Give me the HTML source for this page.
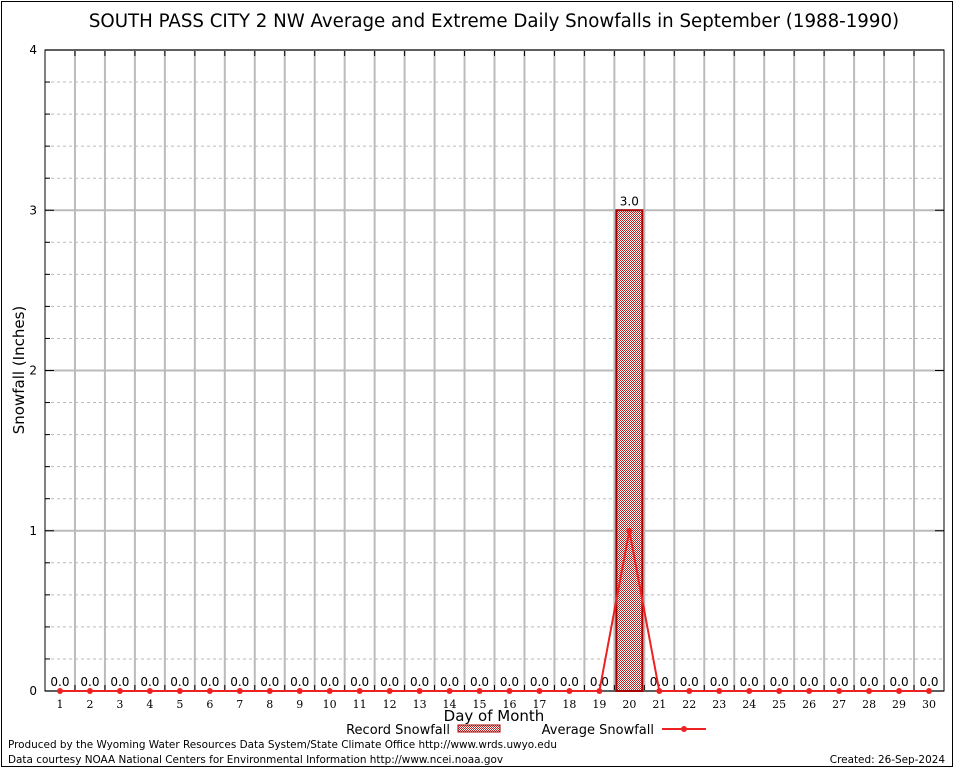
<!DOCTYPE html>
<html><head><meta charset="utf-8"><style>
body{margin:0;background:#fff;}
svg{display:block;font-family:"DejaVu Sans","Liberation Sans",sans-serif;}
</style></head><body>
<svg id="chart" width="954" height="768" xmlns="http://www.w3.org/2000/svg">
<defs>
<pattern id="dots" width="2" height="2" patternUnits="userSpaceOnUse">
<rect width="2" height="2" fill="#fff"/><rect width="1" height="1" fill="#b22"/><rect x="1" y="1" width="1" height="1" fill="#b22"/>
</pattern>
</defs>
<rect x="1.5" y="1.5" width="951" height="765" fill="#fff" stroke="#000" stroke-width="1"/>
<text x="494" y="27" font-size="18.2" text-anchor="middle">SOUTH PASS CITY 2 NW Average and Extreme Daily Snowfalls in September (1988-1990)</text>
<g id="grid"></g>
<g id="marks"></g>
<text x="24" y="370" font-size="15" text-anchor="middle" transform="rotate(-90 24 370)">Snowfall (Inches)</text>
<text x="494" y="721" font-size="15" text-anchor="middle">Day of Month</text>
<g>
<text x="450" y="734" font-size="13" text-anchor="end">Record Snowfall</text>
<rect x="458" y="725" width="42" height="7" fill="url(#dots)" stroke="#a00"/>
<text x="654" y="734" font-size="13" text-anchor="end">Average Snowfall</text>
<line x1="662" y1="729" x2="706" y2="729" stroke="#e22" stroke-width="2"/>
<circle cx="684" cy="729" r="3" fill="#e22"/>
</g>
<text x="8" y="748" font-size="10.45">Produced by the Wyoming Water Resources Data System/State Climate Office http://www.wrds.uwyo.edu</text>
<text x="8" y="763" font-size="10.45">Data courtesy NOAA National Centers for Environmental Information http://www.ncei.noaa.gov</text>
<text x="945" y="763" font-size="10.45" text-anchor="end">Created: 26-Sep-2024</text>
</svg>
<script>
const days=[1,2,3,4,5,6,7,8,9,10,11,12,13,14,15,16,17,18,19,20,21,22,23,24,25,26,27,28,29,30];
const recordValues=[0,0,0,0,0,0,0,0,0,0,0,0,0,0,0,0,0,0,0,3.0,0,0,0,0,0,0,0,0,0,0];
const averageValues=[0,0,0,0,0,0,0,0,0,0,0,0,0,0,0,0,0,0,0,1.0,0,0,0,0,0,0,0,0,0,0];
const yTicks=[0,1,2,3,4];
const L=45,R=944,T=50,B=691,yMax=4;
const bw=(R-L)/days.length;
const xs=d=>L+(d-0.5)*bw;
const ys=v=>B-(v/yMax)*(B-T);
const NS='http://www.w3.org/2000/svg';
function mk(tag,attrs,parent,txt){const e=document.createElementNS(NS,tag);for(const k in attrs)e.setAttribute(k,attrs[k]);if(txt!==undefined)e.textContent=txt;parent.appendChild(e);return e;}
const g=document.getElementById('grid'),m=document.getElementById('marks');
for(let v=0;v<=yMax+1e-9;v+=0.2){const y=ys(v);
 const ln=mk('line',{x1:L,x2:R,y1:y,y2:y,stroke:'#bbb','stroke-dasharray':'3,3'},g);
 
 
 mk('line',{x1:L,x2:L+5,y1:y,y2:y,stroke:'#000'},g);}
for(let i=1;i<days.length;i++){const x=L+i*bw;
 const ln=mk('line',{x1:x,x2:x,y1:T,y2:B,stroke:'#bbb','stroke-width':2},g);
 
 
 mk('line',{x1:x,x2:x,y1:T,y2:T+6,stroke:'#000'},g);
 mk('line',{x1:x,x2:x,y1:B,y2:B-6,stroke:'#000'},g);}
yTicks.forEach(v=>{const y=ys(v);
 const ln=mk('line',{x1:L,x2:R,y1:y,y2:y,stroke:'#bbb','stroke-width':2},g);
 
 
 mk('line',{x1:L,x2:L+9,y1:y,y2:y,stroke:'#000'},g);
 mk('line',{x1:R,x2:R-9,y1:y,y2:y,stroke:'#000'},g);
 const t=mk('text',{x:L-8,y:y+4,'font-size':12,'text-anchor':'end'},g,String(v));
 
 });
const fr=mk('rect',{x:L,y:T,width:R-L,height:B-T,fill:'none',stroke:'#000'},g);


days.forEach((d,i)=>{const x=xs(d);
 const t=mk('text',{x:x,y:B+17,'font-size':11,'text-anchor':'middle','font-family':'DejaVu Serif,serif'},g,String(d));
 
 
 const v=recordValues[i];
 if(v>0){const b=mk('rect',{x:x-bw/2+2,y:ys(v),width:bw-4,height:B-ys(v),fill:'url(#dots)',stroke:'#a00','stroke-width':2},m);
  
  }
 const lb=mk('text',{x:x,y:ys(v)-5,'font-size':12,'text-anchor':'middle'},m,v.toFixed(1));
 
 });
const pl=mk('polyline',{points:days.map((d,i)=>xs(d)+','+ys(averageValues[i])).join(' '),fill:'none',stroke:'#e22','stroke-width':2},m);


days.forEach((d,i)=>{const c=mk('circle',{cx:xs(d),cy:ys(averageValues[i]),r:3,fill:'#e22'},m);
 
 });
</script>
</body></html>
